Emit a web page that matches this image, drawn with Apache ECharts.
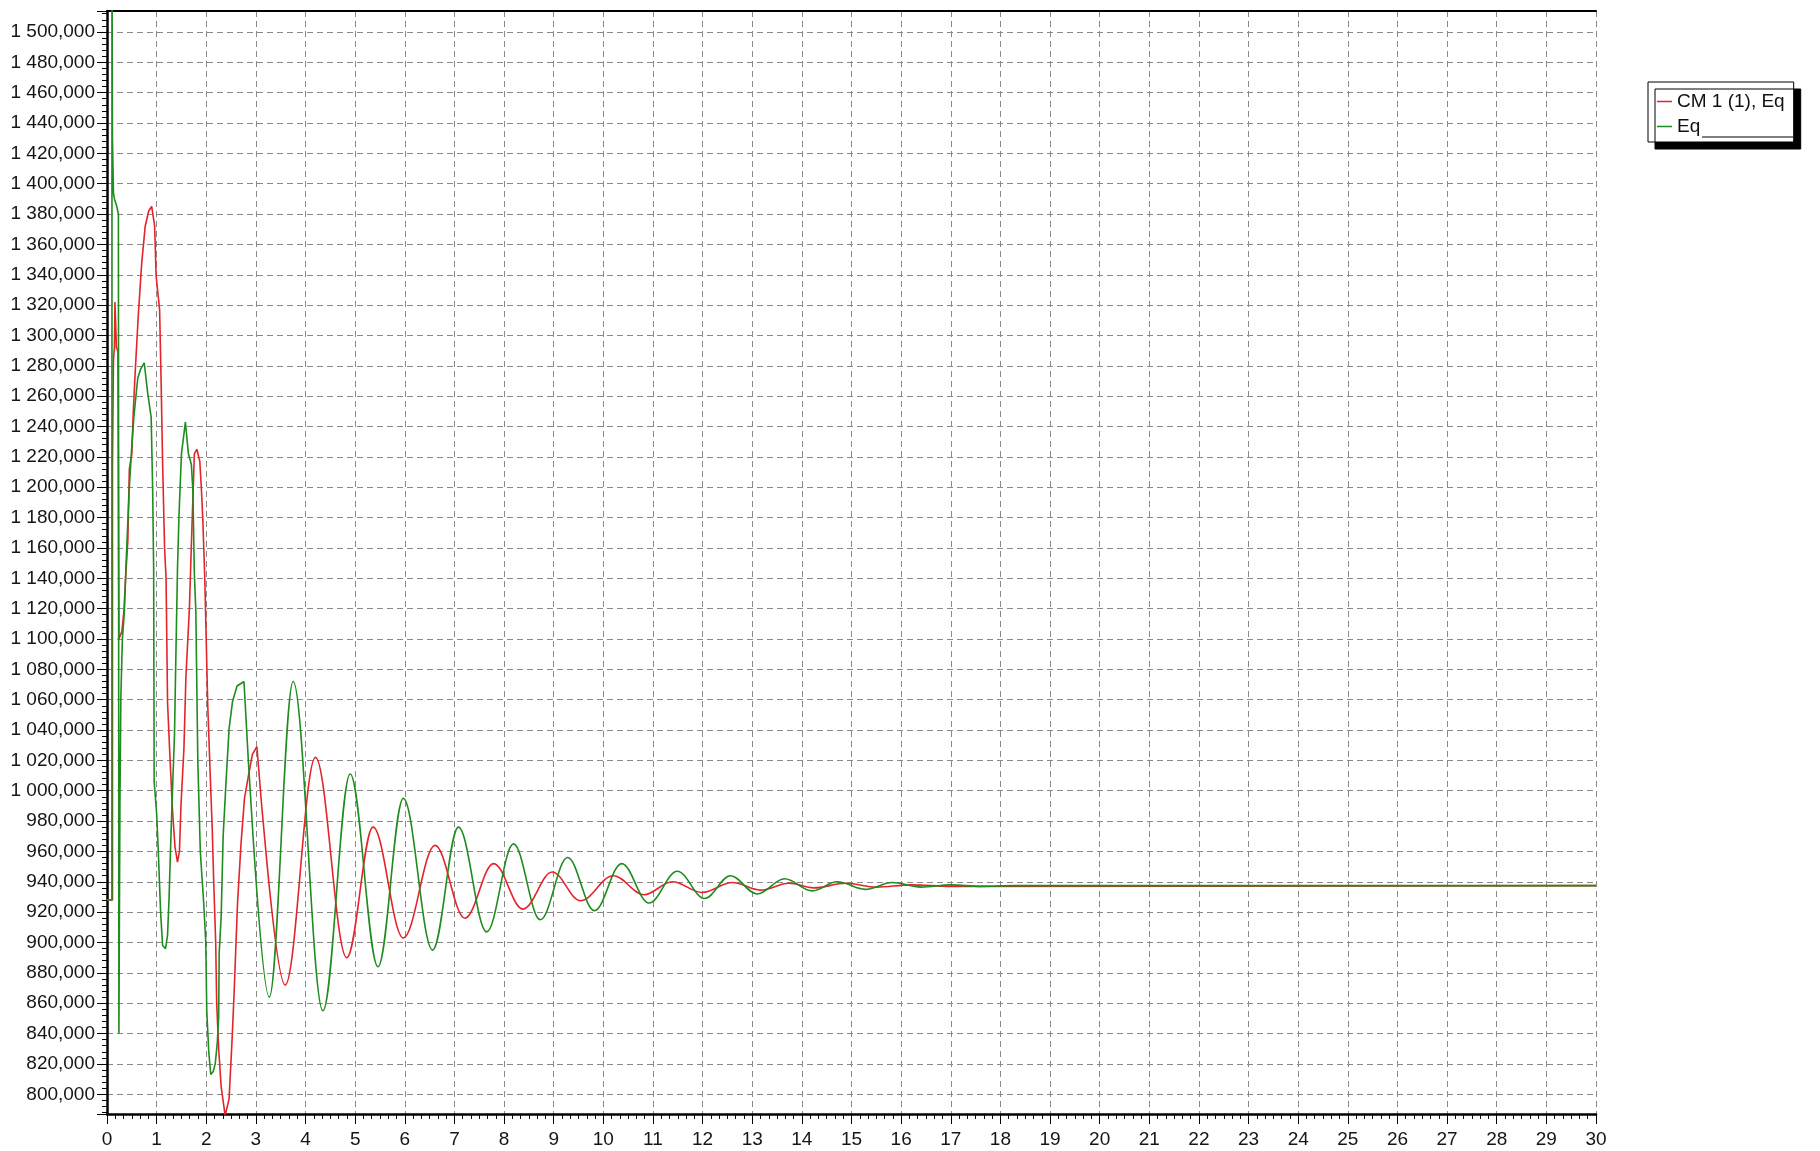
<!DOCTYPE html>
<html>
<head>
<meta charset="utf-8">
<script src="https://cdn.jsdelivr.net/npm/echarts@6/dist/echarts.min.js"></script>
<style>
  html, body { margin: 0; padding: 0; background: #ffffff; }
  #chart { width: 1820px; height: 1151px; }
</style>
</head>
<body>
<div id="chart"></div>
<script>
// Time axis, seconds
const timeMin = 0;
const timeMax = 30;
// Value axis range (thousands, shown as "1 500,000")
const valueMin = 787;
const valueMax = 1513.8;
const valueStep = 20;

// CM 1 (1), Eq — switching transient during the first three seconds
const cmEarlyTime = [0, 0.11, 0.11, 0.13, 0.15, 0.16, 0.19, 0.19, 0.22, 0.24,
  0.30, 0.34, 0.38, 0.42, 0.45, 0.50, 0.53, 0.57, 0.63, 0.70,
  0.77, 0.84, 0.90, 0.96, 0.99, 1.06, 1.09, 1.12, 1.16, 1.19,
  1.22, 1.27, 1.32, 1.37, 1.42, 1.46, 1.49, 1.55, 1.59, 1.66,
  1.70, 1.76, 1.81, 1.87, 1.90, 1.93, 1.97, 2.03, 2.08, 2.12,
  2.15, 2.19, 2.21, 2.25, 2.30, 2.38, 2.42, 2.46, 2.52, 2.56,
  2.63, 2.70, 2.77, 2.85, 2.93, 3.02];
const cmEarlyValue = [928, 928, 1214, 1284, 1292, 1322, 1322, 1292, 1290, 1100,
  1105, 1118, 1143, 1165, 1212, 1222, 1250, 1277, 1313, 1348,
  1372, 1382, 1385, 1372, 1339, 1317, 1270, 1217, 1160, 1140,
  1058, 1021, 987, 963, 953, 960, 990, 1028, 1075, 1120,
  1162, 1222, 1225, 1217, 1200, 1179, 1140, 1056, 1010, 975,
  940, 900, 860, 830, 805, 786, 786, 797, 836, 866,
  926, 965, 995, 1010, 1024, 1029];

// CM 1 (1), Eq — damped swing: successive peaks and troughs
const cmLateTime = [3.02, 3.59, 4.20, 4.83, 5.36, 5.97, 6.61, 7.21, 7.79, 8.38,
  8.97, 9.54, 10.20, 10.82, 11.39, 11.99, 12.60, 13.17, 13.74, 14.24,
  14.88, 15.50, 16.20, 17.00, 30];
const cmLateValue = [1029, 872, 1022, 890, 976, 903, 964, 916, 952, 922,
  946.5, 927.5, 944, 931.5, 940, 933, 939.5, 934.5, 939, 936,
  939, 936.5, 938, 937, 937.5];

// Eq — switching transient during the first three seconds
const eqEarlyTime = [0, 0.10, 0.10, 0.11, 0.11, 0.12, 0.13, 0.15, 0.19, 0.23,
  0.24, 0.25, 0.26, 0.28, 0.31, 0.35, 0.38, 0.41, 0.45, 0.49,
  0.54, 0.62, 0.68, 0.75, 0.82, 0.89, 0.92, 0.94, 0.95, 1.00,
  1.03, 1.08, 1.12, 1.18, 1.22, 1.25, 1.29, 1.33, 1.36, 1.39,
  1.42, 1.45, 1.50, 1.58, 1.64, 1.70, 1.73, 1.76, 1.79, 1.83,
  1.88, 1.95, 1.99, 2.01, 2.05, 2.09, 2.14, 2.18, 2.22, 2.25,
  2.26, 2.30, 2.34, 2.40, 2.46, 2.53, 2.62, 2.76];
const eqEarlyValue = [928, 928, 1560, 1560, 1430, 1430, 1394, 1390, 1386, 1380,
  840, 840, 990, 1063, 1100, 1118, 1146, 1170, 1200, 1222,
  1246, 1272, 1278, 1282, 1262, 1246, 1198, 1146, 1006, 985,
  963, 920, 898, 896, 905, 929, 972, 1010, 1037, 1093,
  1146, 1181, 1222, 1243, 1222, 1215, 1198, 1143, 1118, 1019,
  960, 925, 900, 855, 828, 813, 815, 820, 833, 851,
  893, 917, 970, 1007, 1041, 1059, 1069, 1072];

// Eq — damped swing: successive peaks and troughs
const eqLateTime = [2.76, 3.27, 3.75, 4.35, 4.90, 5.46, 5.97, 6.56, 7.08, 7.65,
  8.19, 8.73, 9.28, 9.82, 10.37, 10.92, 11.49, 12.04, 12.56, 13.10,
  13.65, 14.21, 14.71, 15.28, 15.82, 16.40, 17.00, 17.60, 18.30, 30];
const eqLateValue = [1072, 864, 1072, 855, 1011, 884, 995, 895, 976, 907,
  965, 915, 956, 921, 952, 926, 947, 929, 944, 932,
  942, 934, 940, 935, 939.5, 936.5, 938, 937, 937.5, 937.5];

const seriesNames = ['CM 1 (1), Eq', 'Eq'];
const seriesColors = ['#e3242b', '#1e8c1e'];

const pairs = (t, v) => t.map((x, i) => [x, v[i]]);

// "1 500,000" style: thousands split by a space, three decimals after a comma
function valueLabel(v) {
  const n = Math.round(v);
  const head = n >= 1000 ? Math.floor(n / 1000) + ' ' + String(n % 1000).padStart(3, '0') : String(n);
  return head + ',000';
}

const fontFamily = '"Liberation Sans", Arial, sans-serif';
const gridDash = { color: '#8a8a8a', width: 1, type: [6, 4] };

function lineSeries(name, color, data, smooth) {
  return {
    name: name,
    type: 'line',
    data: data,
    symbol: 'none',
    showSymbol: false,
    smooth: smooth,
    smoothMonotone: smooth ? 'x' : undefined,
    clip: true,
    lineStyle: { color: color, width: 1.6 },
    itemStyle: { color: color },
    emphasis: { disabled: true }
  };
}

const chart = echarts.init(document.getElementById('chart'), null, { renderer: 'canvas' });
chart.setOption({
  animation: false,
  backgroundColor: '#ffffff',
  grid: { left: 107, right: 224, top: 11, bottom: 37, containLabel: false },
  legend: {
    data: seriesNames,
    orient: 'vertical',
    left: 1648,
    top: 82,
    padding: [10, 9, 6, 9],
    itemGap: 6,
    itemWidth: 15,
    itemHeight: 1.5,
    itemTextGap: 8,
    icon: 'rect',
    backgroundColor: '#ffffff',
    borderColor: '#000000',
    borderWidth: 1,
    shadowColor: '#000000',
    shadowBlur: 0,
    shadowOffsetX: 7,
    shadowOffsetY: 7,
    selectedMode: false,
    textStyle: { color: '#111111', fontSize: 19, fontFamily: fontFamily }
  },
  graphic: [{
    type: 'line',
    z: 100,
    shape: { x1: 1702, y1: 137, x2: 1793, y2: 137 },
    style: { stroke: '#000000', lineWidth: 1 }
  }],
  xAxis: [{
    type: 'value',
    min: timeMin,
    max: timeMax,
    interval: 1,
    axisLine: { show: true, onZero: false, lineStyle: { color: '#000000', width: 2.5 } },
    axisTick: { show: true, length: 10, lineStyle: { color: '#000000', width: 1 } },
    minorTick: { show: true, splitNumber: 6, length: 5, lineStyle: { color: '#000000', width: 1 } },
    axisLabel: { show: true, margin: 16, color: '#151515', fontSize: 19, fontFamily: fontFamily,
                 showMinLabel: true, showMaxLabel: true },
    splitLine: { show: true, lineStyle: gridDash }
  }, {
    type: 'value',
    position: 'top',
    min: timeMin,
    max: timeMax,
    axisLine: { show: true, onZero: false, lineStyle: { color: '#000000', width: 2 } },
    axisTick: { show: false },
    axisLabel: { show: false },
    splitLine: { show: false }
  }],
  yAxis: {
    type: 'value',
    min: valueMin,
    max: valueMax,
    splitNumber: Math.round((valueMax - valueMin) / valueStep),
    minInterval: valueStep,
    maxInterval: valueStep,
    axisLine: { show: true, onZero: false, lineStyle: { color: '#000000', width: 2.5 } },
    axisTick: { show: true, length: 10, lineStyle: { color: '#000000', width: 1 } },
    minorTick: { show: true, splitNumber: 5, length: 5, lineStyle: { color: '#000000', width: 1 } },
    axisLabel: { show: true, margin: 12, color: '#151515', fontSize: 19, fontFamily: fontFamily,
                 showMinLabel: false, showMaxLabel: false, formatter: valueLabel },
    splitLine: { show: true, lineStyle: gridDash }
  },
  series: [
    lineSeries(seriesNames[0], seriesColors[0], pairs(cmEarlyTime, cmEarlyValue), false),
    lineSeries(seriesNames[0], seriesColors[0], pairs(cmLateTime, cmLateValue), 0.36),
    lineSeries(seriesNames[1], seriesColors[1], pairs(eqEarlyTime, eqEarlyValue), false),
    lineSeries(seriesNames[1], seriesColors[1], pairs(eqLateTime, eqLateValue), 0.36)
  ]
});
</script>
</body>
</html>
